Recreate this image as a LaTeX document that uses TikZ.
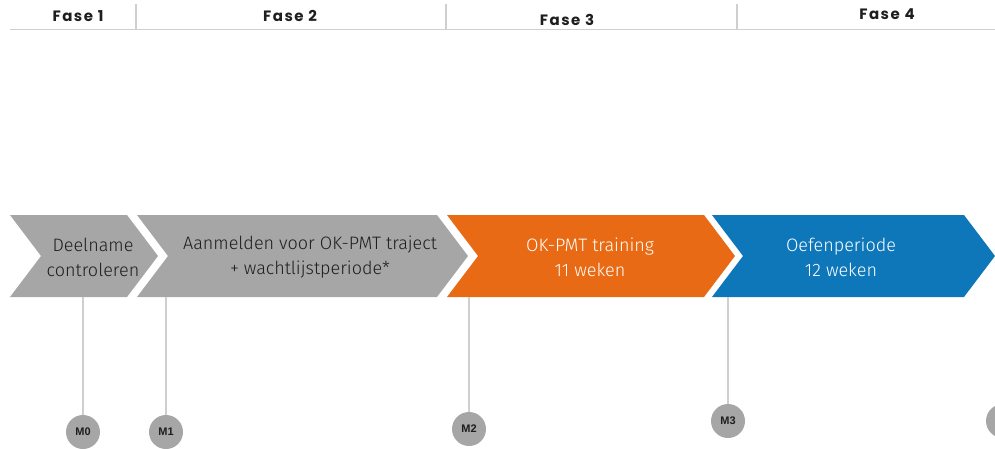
\documentclass[tikz,border=0pt]{standalone}
\usepackage{fontspec}
\setmainfont{Fira Sans Light}
\newfontfamily\fasefont{Poppins}[LetterSpace=10]
\newfontfamily\mfont{Liberation Sans}
\definecolor{grijs}{HTML}{A6A6A6}
\definecolor{oranje}{HTML}{E86A14}
\definecolor{blauw}{HTML}{0E77BA}
\definecolor{lijn}{HTML}{CFCFCF}
\definecolor{donker}{HTML}{1E1E1E}

\begin{document}
\begin{tikzpicture}[x=1pt,y=-1pt,
	fase/.style={font=\fasefont\bfseries\fontsize{15}{15}\selectfont,text=donker},
	stap/.style={align=center,font=\fontsize{18}{25}\selectfont,text=donker},
	mijlpaal/.style={circle,fill=grijs,minimum size=34pt,inner sep=0pt,
		font=\mfont\bfseries\fontsize{11}{11}\selectfont,text=donker},
	tak/.style={draw=lijn,line width=1.2pt}]
	\clip (0,0) rectangle (995,448);
	% kop met fasen
	\draw[lijn,line width=1.5pt] (10,29.5) -- (995,29.5);
	\draw[lijn,line width=1.5pt] (136,4) -- (136,29.5);
	\draw[lijn,line width=1.5pt] (446,4) -- (446,29.5);
	\draw[lijn,line width=1.5pt] (737,4) -- (737,29.5);
	\node[fase] (f1) at (78,16) {Fase 1};
	\node[fase] (f2) at (290,16) {Fase 2};
	\node[fase] (f3) at (567,20) {Fase 3};
	\node[fase] (f4) at (887,14) {Fase 4};
	% pijlen
	\fill[grijs] (10,215) -- (127,215) -- (158,256) -- (127,297) -- (10,297) -- (41,256) -- cycle;
	\fill[grijs] (137,215) -- (437,215) -- (468,256) -- (437,297) -- (137,297) -- (168,256) -- cycle;
	\fill[oranje] (447,215) -- (704,215) -- (735,256) -- (704,297) -- (447,297) -- (478,256) -- cycle;
	\fill[blauw] (712,215) -- (964,215) -- (995,256) -- (964,297) -- (712,297) -- (743,256) -- cycle;
	\node[stap] (s1) at (93,257) {Deelname\\controleren};
	\node[stap] (s2) at (310,257) {Aanmelden voor OK-PMT traject\\+ wachtlijstperiode*};
	\node[stap,text=white] (s3) at (590,257) {OK-PMT training\\11 weken};
	\node[stap,text=white] (s4) at (841,257) {Oefenperiode\\12 weken};
	% mijlpalen
	\coordinate (t0) at (83,297);
	\coordinate (t1) at (166,297);
	\coordinate (t2) at (469,297);
	\coordinate (t3) at (728,297);
	\node[mijlpaal] (m0) at (83,432) {M0};
	\node[mijlpaal] (m1) at (166,432) {M1};
	\node[mijlpaal] (m2) at (469,429) {M2};
	\node[mijlpaal] (m3) at (728,421) {M3};
	\node[mijlpaal] (m4) at (1003,421) {};
	\draw[tak] (t0) -- (m0);
	\draw[tak] (t1) -- (m1);
	\draw[tak] (t2) -- (m2);
	\draw[tak] (t3) -- (m3);
\end{tikzpicture}
\end{document}
